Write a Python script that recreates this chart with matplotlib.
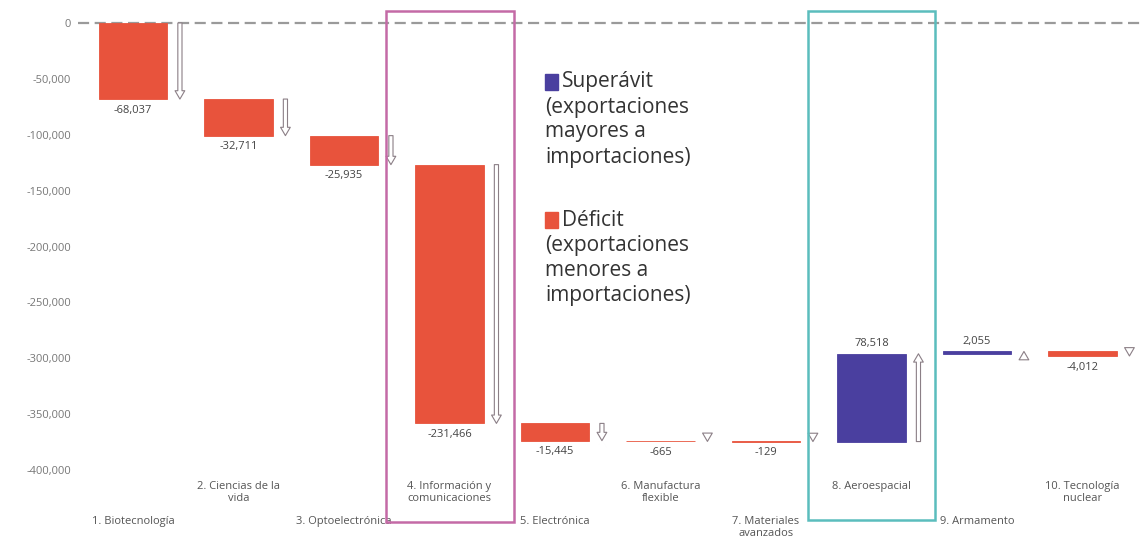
import numpy as np
import matplotlib.pyplot as plt
from matplotlib.patches import Rectangle
from matplotlib.ticker import FuncFormatter
import matplotlib.transforms as mtransforms

plt.rcParams['font.family'] = ['Open Sans', 'DejaVu Sans']

categories = ['1. Biotecnología', '2. Ciencias de la\nvida', '3. Optoelectrónica',
              '4. Información y\ncomunicaciones', '5. Electrónica',
              '6. Manufactura\nflexible', '7. Materiales\navanzados',
              '8. Aeroespacial', '9. Armamento', '10. Tecnología\nnuclear']
balance = [-68037, -32711, -25935, -231466, -15445, -665, -129, 78518, 2055, -4012]
yticks = [0, -50000, -100000, -150000, -200000, -250000, -300000, -350000, -400000]
legend_lines = [['Superávit', '(exportaciones', 'mayores a', 'importaciones)'],
                ['Déficit', '(exportaciones', 'menores a', 'importaciones)']]

RED = '#E8533C'
BLUE = '#4A3F9F'
W, H = 1140, 548

vals = np.array(balance)
ends = np.cumsum(vals)
starts = ends - vals
x = np.arange(len(vals))

fig = plt.figure(figsize=(W / 100, H / 100), dpi=100)
ax = fig.add_axes([78 / W, 0, 1 - 78 / W, 1])
ax.set_xlim(-0.521, 9.545)
ax.set_ylim(-469600, 20570)

colors = [BLUE if v > 0 else RED for v in vals]
ax.bar(x, vals, bottom=starts, width=0.65, color=colors, edgecolor=colors, linewidth=0.6, zorder=3)
ax.axhline(0, color='#9a9a9a', linestyle=(0, (5, 2.5)), linewidth=1.6, zorder=2)

# hollow arrows showing direction
for i in x:
    ax.annotate('', xy=(i + 0.445, ends[i]), xytext=(i + 0.445, starts[i]),
                arrowprops=dict(arrowstyle='simple,head_width=0.7,head_length=0.6,tail_width=0.3',
                                fc='white', ec='#8b7f86', lw=0.8,
                                shrinkA=0, shrinkB=0), zorder=4)

# value labels
for i in x:
    v = vals[i]
    if v > 0:
        ax.text(i, max(starts[i], ends[i]) + 4000, f'{v:,}', ha='center', va='bottom',
                fontsize=8, color='#444444', zorder=5)
    else:
        ax.text(i, min(starts[i], ends[i]) - 5000, f'{v:,}', ha='center', va='top',
                fontsize=8, color='#444444', zorder=5)

# category labels in two staggered rows
trans = mtransforms.blended_transform_factory(ax.transData, ax.transAxes)
for i, name in enumerate(categories):
    ytop = 1 - 481 / H if i % 2 == 1 else 1 - 516 / H
    ax.text(i, ytop, name, transform=trans, ha='center', va='top', fontsize=8,
            color='#555555', linespacing=1.15, clip_on=False)

# highlight boxes
ax.add_patch(Rectangle((3 - 0.6, -446600), 1.21, 457400, fill=False,
                       ec='#C46AA6', lw=1.8, zorder=6))
ax.add_patch(Rectangle((7 - 0.6, -444800), 1.2, 455600, fill=False,
                       ec='#5BBDBD', lw=1.8, zorder=6))

ax.set_yticks(yticks)
ax.yaxis.set_major_formatter(FuncFormatter(lambda v, p: f'{int(v):,}'))
ax.tick_params(axis='y', length=0, pad=5, labelsize=8, labelcolor='#777777')
ax.set_xticks([])
for s in ax.spines.values():
    s.set_visible(False)

# legend drawn by hand
for col, lines, top in zip([BLUE, RED], legend_lines, [82, 220]):
    fig.patches.append(Rectangle((545 / W, 1 - (top + 8) / H), 13 / W, 16 / H,
                                 transform=fig.transFigure, color=col))
    for k, line in enumerate(lines):
        fig.text((562 if k == 0 else 545) / W, 1 - (top + 25 * k) / H, line,
                 ha='left', va='center', fontsize=15, color='#333333')

fig.savefig('out.png', dpi=100)
